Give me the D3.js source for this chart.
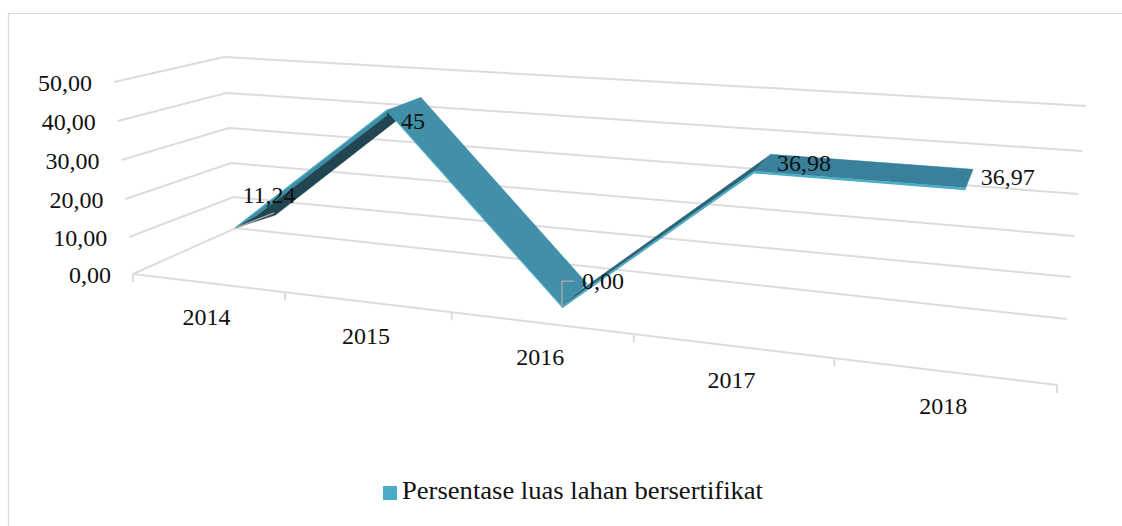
<!DOCTYPE html>
<html><head><meta charset="utf-8">
<script src="https://cdnjs.cloudflare.com/ajax/libs/d3/7.8.5/d3.min.js"></script>
<style>html,body{margin:0;background:#fff;overflow:hidden}svg{display:block}text{font-family:"Liberation Serif",serif;fill:#111}</style>
</head><body><svg id="c" width="1122" height="526"></svg>
<script>
// ---- data ----
const years = ["2014","2015","2016","2017","2018"];
const values = [11.24,45,0,36.98,36.97];
const valueLabels = ["11,24","45","0,00","36,98","36,97"];
const yTicks = [0,10,20,30,40,50];
const yTickLabels = ["0,00","10,00","20,00","30,00","40,00","50,00"];
const seriesName = "Persentase luas lahan bersertifikat";

// ---- projection: four vertical posts of the 3D box ----
const svg = d3.select("#c");
const post=(xs,ys)=>({x:d3.scaleLinear([0,50],xs),y:d3.scaleLinear(yTicks,ys)});
const FL=post([133,114],[274,237,199,160,121,82]),
      FR=post([1057,1082],[385,338,291,244,197,150]),
      BL=post([236,224],[228,197,163,128,93,57]),
      BR=post([1067,1086],[319,277,236,194,151,106]);
const tScale=d3.scaleLinear([0,1,2,3,4,5],[0,.1645,.345,.542,.759,1]);
function P(i,v,d){
  const t=tScale(i), L=d3.interpolateNumber;
  const fx=L(FL.x(v),FR.x(v))(t), fy=L(FL.y(v),FR.y(v))(t),
        bx=L(BL.x(v),BR.x(v))(t), by=L(BL.y(v),BR.y(v))(t);
  return [L(fx,bx)(d),L(fy,by)(d)];
}
const line=d3.line();
const grid="#dcdcdc";
// frame
svg.append("path").attr("d","M8.5 526V13.5H1122").attr("fill","none").attr("stroke","#d9d9d9").attr("stroke-width",1.2);

// gridlines
const g=svg.append("g").attr("fill","none").attr("stroke",grid).attr("stroke-width",2);
yTicks.forEach(v=>{
  g.append("path").attr("d",line([P(0,v,0),P(0,v,1),P(5,v,1)]));
});
g.append("path").attr("d",line([P(0,0,0),P(5,0,0)]));
d3.range(6).forEach(i=>{
  const p=P(i,0,0);
  g.append("path").attr("d",line([p,[p[0],p[1]+8]]));
});

// y labels
yTicks.forEach((v,k)=>{
  const p=P(0,v,0);
  svg.append("text").attr("x",p[0]-22).attr("y",p[1]+8.5).attr("text-anchor","end").attr("font-size",24).text(yTickLabels[k]);
});
// category labels
years.forEach((y,k)=>{
  const p=P(k+.5,0,0);
  svg.append("text").attr("x",p[0]-2.5).attr("y",p[1]+42).attr("text-anchor","middle").attr("font-size",24).text(y);
});

// ribbon: one face per segment, drawn back to front
const d0=.31;
const backDepth=[[.72,.7],[.72,.72],[.55,.72],[.72,.72]];
const backDrop=[1.2,0,0,0];
const faceColors=["#224651","#418FA8","#2C6577","#39819A"];
const order=[0,2,3,1];
const ribbon=svg.append("g");
order.forEach(k=>{
  const a=k+.5,b=k+1.5,va=values[k],vb=values[k+1],dr=backDrop[k];
  ribbon.append("path").attr("d",line([P(a,va,d0),P(a,va-dr,backDepth[k][0]),P(b,vb-dr,backDepth[k][1]),P(b,vb,d0)])+"Z")
    .attr("fill",faceColors[k]).attr("stroke",faceColors[k]).attr("stroke-width",.5);
  if(k===0){
    const f=.15, vm=va+f*(vb-va);
    ribbon.append("path").attr("d",line([P(a,va,d0),P(b,vb,d0),P(b,vb-1.3,d0),P(a+f,vm-1.3,d0)])+"Z").attr("fill","#3E8CA5");
    ribbon.append("path").attr("d",line([P(a,va,d0),P(b,vb,d0)])).attr("fill","none").attr("stroke","#4BACC6").attr("stroke-width",1.2);
  } else {
    const thick=k===1?.35:.55;
    ribbon.append("path").attr("d",line([P(a,va,d0),P(b,vb,d0),P(b,vb-thick,d0),P(a,va-thick,d0)])+"Z").attr("fill","#4BACC6");
  }
});

// leader lines
const lead=svg.append("g").attr("fill","none").attr("stroke","#a6a6a6").attr("stroke-width",1.5);
const p14=P(.5,values[0],d0), p14b=P(.5,values[0],.72);
lead.append("path").attr("d",line([[p14[0]+1,p14[1]],[p14b[0]-1,p14b[1]+2]]));
const p16=P(2.5,values[2],d0);
lead.append("path").attr("d",line([p16,[p16[0],p16[1]-25],[p16[0]+12,p16[1]-25]]));

// value labels
const labelShift=[[7,-25],[14,19],[20,-17],[23,0],[15,-3]];
values.forEach((v,k)=>{
  const p=P(k+.5,v,d0);
  svg.append("text").attr("x",p[0]+labelShift[k][0]).attr("y",p[1]+labelShift[k][1]).attr("font-size",24).text(valueLabels[k]);
});

// legend
svg.append("rect").attr("x",383).attr("y",486).attr("width",14).attr("height",14).attr("fill","#4BACC6");
svg.append("text").attr("x",402).attr("y",499).attr("font-size",26).attr("textLength",361).attr("lengthAdjust","spacingAndGlyphs").text(seriesName);
</script></body></html>
